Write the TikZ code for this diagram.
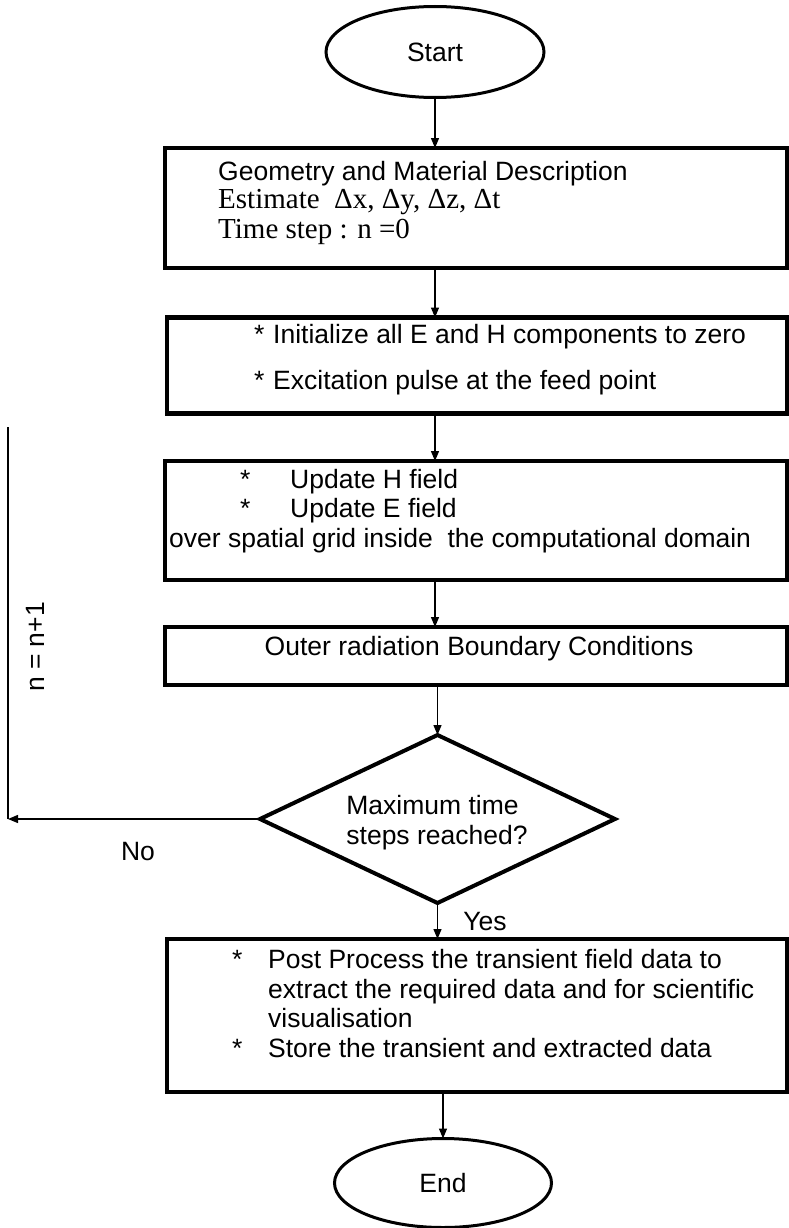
\documentclass[tikz,border=0pt]{standalone}
\usepackage{fontspec}
\setmainfont{Liberation Serif}
\setsansfont{Liberation Sans}
\usetikzlibrary{shapes.geometric,arrows.meta}
\tikzset{
  procbox/.style={draw, line width=4.2pt, minimum width=#1, inner sep=0pt, outer sep=0pt},
  term/.style={draw, ellipse, line width=3pt, inner sep=0pt, outer sep=0pt},
  decision/.style={draw, diamond, line width=4pt, inner sep=0pt, outer sep=0pt},
  arr/.style={line width=1.3pt, -{Triangle[length=10pt,width=8pt]}},
  thin line/.style={line width=1.3pt},
  sanstxt/.style={font=\fontsize{26.5}{30}\selectfont\sffamily, inner sep=0pt, anchor=base west},
  seriftxt/.style={font=\fontsize{29}{32}\selectfont\rmfamily, inner sep=0pt, anchor=base west},
  startxt/.style={font=\fontsize{26.5}{30}\selectfont\sffamily, inner sep=0pt, anchor=base west}
}
\begin{document}
\begin{tikzpicture}[x=1pt,y=-1pt]
\useasboundingbox (0,0) rectangle (789,1228);
% terminals
\node[term, minimum width=218pt, minimum height=91pt, font=\fontsize{26.5}{30}\selectfont\sffamily] (start) at (435,52) {Start};
\node[term, minimum width=217pt, minimum height=89pt, font=\fontsize{26.5}{30}\selectfont\sffamily] (end) at (443,1183) {End};
% boxes
\node[procbox=622pt, minimum height=120pt] (b1) at (476,208) {};
\node[procbox=620pt, minimum height=96pt] (b2) at (477,365.5) {};
\node[procbox=622pt, minimum height=119pt] (b3) at (476,520.5) {};
\node[procbox=622pt, minimum height=58pt] (b4) at (476,656) {};
\node[procbox=620pt, minimum height=153pt] (b5) at (477,1015.5) {};
% decision
\node[decision, minimum width=355pt, minimum height=168pt] (dia) at (437.5,819) {};
\node[font=\fontsize{26.5}{30}\selectfont\sffamily, align=left, inner sep=0pt] (diat) at (437,823) {Maximum time\\steps reached?};
% box texts
\node[sanstxt] (t11) at (218,180) {Geometry and Material Description};
\node[seriftxt] (t12) at (218,208) {Estimate \ Δx, Δy, Δz, Δt};
\node[seriftxt] (t13) at (218,238) {Time step : n =0};
\node[startxt] (s21) at (254,343) {*};
\node[sanstxt] (t21) at (273,343) {Initialize all E and H components to zero};
\node[startxt] (s22) at (254,389) {*};
\node[sanstxt] (t22) at (273,389) {Excitation pulse at the feed point};
\node[startxt] (s31) at (240,488) {*};
\node[sanstxt] (t31) at (290,488) {Update H field};
\node[startxt] (s32) at (240,517) {*};
\node[sanstxt] (t32) at (290,517) {Update E field};
\node[sanstxt] (t33) at (169,547) {over spatial grid inside \ the computational domain};
\node[font=\fontsize{26.5}{30}\selectfont\sffamily, inner sep=0pt, anchor=base] (t41) at (479,655) {Outer radiation Boundary Conditions};
\node[startxt] (s51) at (232,968) {*};
\node[sanstxt] (t51) at (268,968) {Post Process the transient field data to};
\node[sanstxt] (t52) at (268,998) {extract the required data and for scientific};
\node[sanstxt] (t53) at (268,1027) {visualisation};
\node[startxt] (s54) at (232,1057) {*};
\node[sanstxt] (t54) at (268,1057) {Store the transient and extracted data};
% connectors
\draw[arr] (start.south) -- (start.south |- b1.north);
\draw[arr] (b1.south -| start) -- (b2.north -| start);
\draw[arr] (b2.south -| start) -- (b3.north -| start);
\draw[arr] (b3.south -| start) -- (b4.north -| start);
\draw[arr] (b4.south -| dia) -- (dia.north);
\draw[arr] (dia.south) -- (dia.south |- b5.north);
\draw[arr] (b5.south -| end) -- (end.north);
\coordinate (loopc) at (8,819);
\coordinate (looptop) at (8,427);
\draw[arr] (dia.west) -- (loopc);
\draw[thin line] (loopc) -- (looptop);
% labels
\node[font=\fontsize{26.5}{30}\selectfont\sffamily, inner sep=0pt, rotate=90] (lbl) at (35,647) {n = n+1};
\node[font=\fontsize{26.5}{30}\selectfont\sffamily, inner sep=0pt] (no) at (138,852) {No};
\node[font=\fontsize{26.5}{30}\selectfont\sffamily, inner sep=0pt] (yes) at (485,922) {Yes};
\end{tikzpicture}
\end{document}
